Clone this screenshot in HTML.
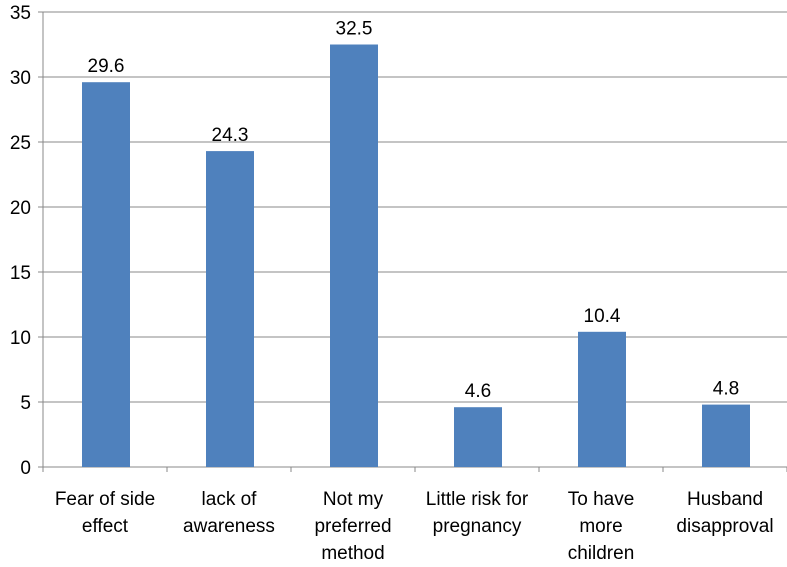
<!DOCTYPE html>
<html><head><meta charset="utf-8"><style>
html,body{margin:0;padding:0;background:#fff}
text{font-family:"Liberation Sans",sans-serif;fill:#000}
</style></head><body>
<svg id="chart" width="787" height="562" xmlns="http://www.w3.org/2000/svg"></svg>
<script>
const categories=[["Fear of side","effect"],["lack of","awareness"],["Not my","preferred","method"],["Little risk for","pregnancy"],["To have","more","children"],["Husband","disapproval"]];
const values=[29.6,24.3,32.5,4.6,10.4,4.8];
const yTicks=[0,5,10,15,20,25,30,35];
const svg=document.getElementById('chart');
const NS='http://www.w3.org/2000/svg';
const x0=43,catW=124,y0=467,pxPerUnit=13;
const y=v=>y0-v*pxPerUnit;
const cx=i=>x0+catW*i;
function mk(t,a,p){const e=document.createElementNS(NS,t);for(const k in a)e.setAttribute(k,a[k]);(p||svg).appendChild(e);return e;}
yTicks.forEach(t=>{
  if(t>0){const g=mk('line',{x1:x0,x2:787,y1:y(t),y2:y(t),stroke:'#8a8a8a','stroke-width':1});
  
  }
  const tk=mk('line',{x1:x0-5,x2:x0,y1:y(t),y2:y(t),stroke:'#888'});
  
  
  const l=mk('text',{x:x0-12,y:y(t)+7,'text-anchor':'end','font-size':19});
  l.textContent=t;
  
  
});
const ax=mk('line',{x1:x0,x2:x0,y1:y(35),y2:y0,stroke:'#888'});


const xa=mk('line',{x1:x0,x2:787,y1:y0,y2:y0,stroke:'#888'});


for(let i=0;i<=categories.length;i++){
  const t=mk('line',{x1:cx(i),x2:cx(i),y1:y0,y2:y0+5,stroke:'#888'});
  
  
}
values.forEach((v,i)=>{
  const b=mk('rect',{x:cx(i)+39,y:y(v),width:48,height:v*pxPerUnit,fill:'#4f81bd'});
  
  
  const l=mk('text',{x:cx(i)+63,y:y(v)-10,'text-anchor':'middle','font-size':19});
  l.textContent=v.toFixed(1);
  
  
  categories[i].forEach((s,j)=>{
    const c=mk('text',{x:cx(i)+62,y:505+j*27,'text-anchor':'middle','font-size':19});
    c.textContent=s;
    
    
  });
});
</script>
</body></html>
